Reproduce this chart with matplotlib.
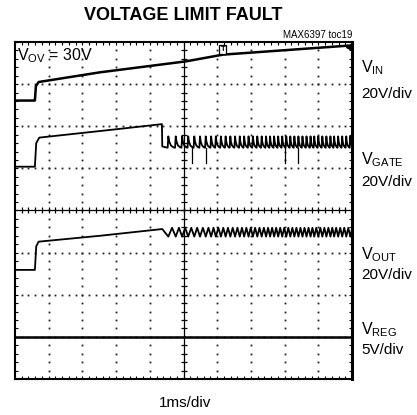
import numpy as np
import matplotlib
matplotlib.use('Agg')
import matplotlib.pyplot as plt

plt.rcParams['font.family'] = ['Liberation Sans', 'DejaVu Sans']
plt.rcParams['mathtext.default'] = 'regular'

# ---- data (time in divisions of 1ms, level in screen divisions) ----
vin_t = [0.0, 0.59, 0.62, 0.70, 2.52, 5.07, 6.17, 10.0]
vin_v = [6.61, 6.61, 6.95, 7.05, 7.28, 7.54, 7.70, 7.92]

gate_t = [0.0, 0.59, 0.63, 0.72, 3.02, 4.36, 4.37]
gate_v = [5.04, 5.04, 5.60, 5.73, 5.93, 6.05, 5.52]
gate_peaks = [4.55, 4.77, 4.96, 5.14, 5.32, 5.49, 5.66, 5.82, 5.96, 6.11,
              6.25, 6.39, 6.53, 6.67, 6.80, 6.93, 7.06, 7.19, 7.32, 7.45,
              7.57, 7.69, 7.81, 7.93, 8.05, 8.17, 8.29, 8.41, 8.53, 8.65,
              8.77, 8.88, 9.00, 9.12, 9.24, 9.36, 9.47, 9.59, 9.71, 9.83, 9.95]
gate_hi = 5.76
gate_lo = 5.49
gate_spike_t = [5.24, 5.66, 8.01, 8.41]
gate_spike_v = 5.12

vout_t = [0.0, 0.59, 0.63, 0.70, 2.52, 4.37]
vout_v = [2.59, 2.59, 3.15, 3.26, 3.40, 3.56]
vout_hi = 3.59
vout_lo = 3.38

vreg_t = [0.0, 10.0]
vreg_v = [1.0, 1.0]

# ---- build ripple polylines from read peak times ----
gx, gy = list(gate_t), list(gate_v)
amp = gate_hi - gate_lo
pk = gate_peaks + [10.07]
for i in range(len(gate_peaks)):
    p, q = pk[i], pk[i + 1]
    g = q - p
    gx += [p - 0.02, p, p + 0.12 * g, p + 0.35 * g, p + 0.7 * g]
    gy += [gate_lo, gate_hi, gate_lo + 0.55 * amp, gate_lo + 0.2 * amp,
           gate_lo + 0.03 * amp]
gx.append(10.0); gy.append(gate_lo + 0.1 * amp)

ox, oy = list(vout_t), list(vout_v)
for i in range(len(gate_peaks)):
    p, q = pk[i], pk[i + 1]
    ox += [p, (p + q) / 2]
    oy += [vout_lo, vout_hi]
ox.append(10.0); oy.append(vout_lo + 0.1)

# ---- figure ----
W, H = 417, 415
fig = plt.figure(figsize=(W / 100, H / 100), dpi=100)
L, R, T, B = 15, 352, 42, 379
ax = fig.add_axes([L / W, 1 - B / H, (R - L) / W, (B - T) / H])
ax.set_xlim(0, 10)
ax.set_ylim(0, 8)

# graticule dots
sub_y = np.arange(0.2, 8.0, 0.2)
sub_x = np.arange(0.2, 10.0, 0.2)
for xv in range(1, 10):
    if xv == 5:
        continue
    ax.plot([xv] * len(sub_y), sub_y, ls='none', marker='s', ms=1.3,
            mew=0, color='#222222')
for yv in range(1, 8):
    if yv == 4:
        continue
    ax.plot(sub_x, [yv] * len(sub_x), ls='none', marker='s', ms=1.3,
            mew=0, color='#222222')
# centre cross with ticks
ax.axvline(5, color='k', lw=0.9)
ax.axhline(4, color='k', lw=0.9)
ax.plot([5] * len(sub_y), sub_y, ls='none', marker='_', ms=5, mew=0.9, color='k')
ax.plot(sub_x, [4] * len(sub_x), ls='none', marker='|', ms=5, mew=0.9, color='k')

# traces
ax.plot(vin_t, vin_v, color='k', lw=1.8, solid_joinstyle='round')
ax.plot(gx, gy, color='k', lw=1.3, solid_joinstyle='round')
for st in gate_spike_t:
    ax.plot([st, st], [gate_lo, gate_spike_v], color='k', lw=0.9)
ax.plot(ox, oy, color='k', lw=1.3, solid_joinstyle='round')
ax.plot(vreg_t, vreg_v, color='k', lw=1.8)

# markers
ax.plot([9.92], [7.89], marker='<', ms=5, color='k', clip_on=False)
ax.text(6.17, 7.83, 'T', fontsize=5.5, fontweight='bold', ha='center',
        va='center', bbox=dict(boxstyle='square,pad=0.15', fc='white',
                               ec='k', lw=0.9))

# frame and edge ticks
ticks_x = np.arange(0, 10.01, 0.2)
ticks_y = np.arange(0, 8.01, 0.2)
ax.set_xticks(ticks_x)
ax.set_yticks(ticks_y)
ax.set_xticklabels([])
ax.set_yticklabels([])
ax.tick_params(direction='in', length=2.5, width=0.8, top=True, right=True,
               bottom=True, left=True)
for s in ['left', 'top', 'bottom']:
    ax.spines[s].set_linewidth(1.5)
ax.spines['right'].set_linewidth(2.2)

# texts
def ft(x, y, s, **kw):
    fig.text(x / W, 1 - y / H, s, **kw)

ft(183, 15, 'VOLTAGE LIMIT FAULT', fontsize=13, fontweight='bold',
   ha='center', va='center')
ft(352, 35, 'MAX6397 toc19', fontsize=7, ha='right', va='center')
ft(17, 56, 'V$_{OV}$ = 30V', fontsize=11.5, ha='left', va='center')
ft(361, 68, 'V$_{IN}$', fontsize=11.5, ha='left', va='center')
ft(361, 94, '20V/div', fontsize=11, ha='left', va='center')
ft(361, 160, 'V$_{GATE}$', fontsize=11.5, ha='left', va='center')
ft(361, 182, '20V/div', fontsize=11, ha='left', va='center')
ft(361, 255, 'V$_{OUT}$', fontsize=11.5, ha='left', va='center')
ft(361, 275, '20V/div', fontsize=11, ha='left', va='center')
ft(361, 330, 'V$_{REG}$', fontsize=11.5, ha='left', va='center')
ft(361, 350, '5V/div', fontsize=11, ha='left', va='center')
ft(185, 403, '1ms/div', fontsize=11, ha='center', va='center')

fig.savefig('out.png', dpi=100)
